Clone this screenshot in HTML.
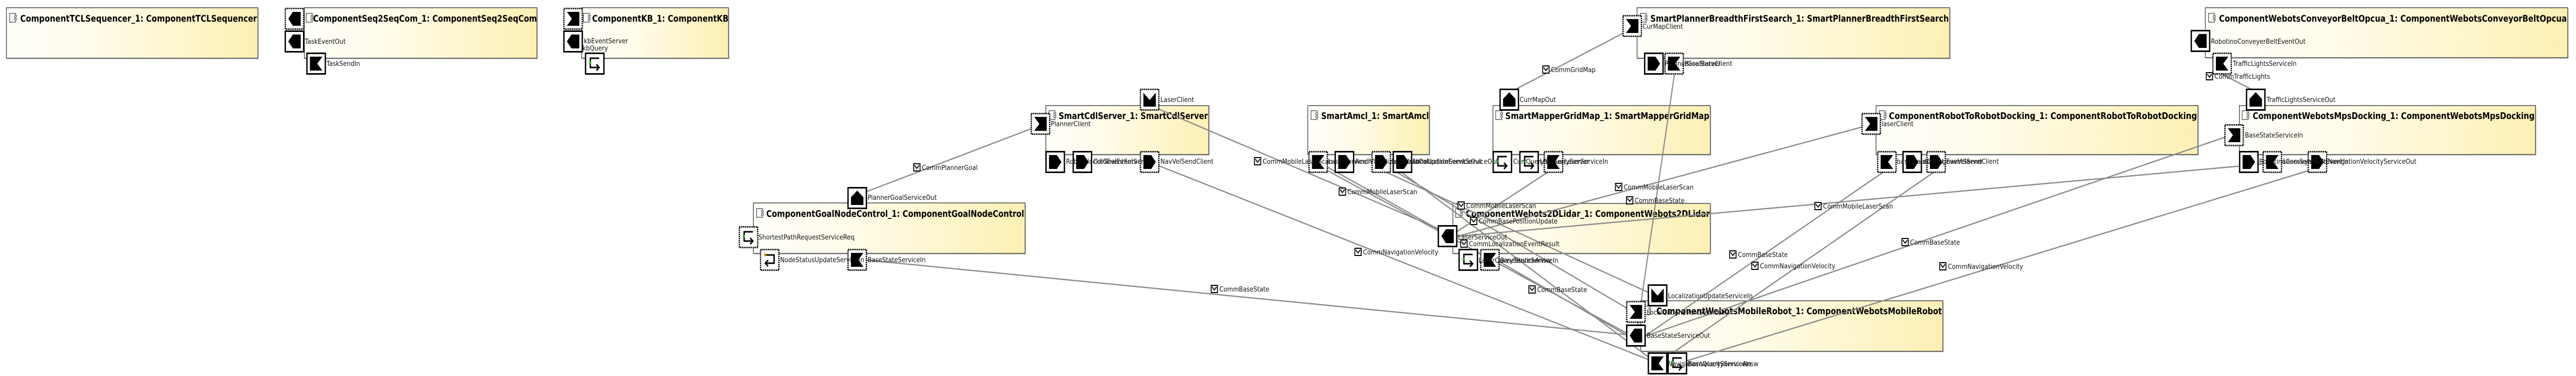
<!DOCTYPE html>
<html><head><meta charset="utf-8"><meta name="viewport" content="width=5594, initial-scale=1"><style>
html,body{margin:0;padding:0;background:#fff;width:100%;height:100%;overflow:hidden;}
svg{display:block;width:100vw;height:100vh;}
.t{font-family:"DejaVu Sans","Liberation Sans",sans-serif;font-weight:bold;font-size:18px;fill:#000;}
.l{font-family:"DejaVu Sans","Liberation Sans",sans-serif;font-size:13px;fill:#111;}
.ln{stroke:#8c8c8c;stroke-width:2.5;fill:none;}
.bx{stroke:#444;stroke-width:1.5;fill:url(#g);}
</style></head><body>
<svg viewBox="0 0 5594 730" preserveAspectRatio="none" xmlns="http://www.w3.org/2000/svg" xmlns:xlink="http://www.w3.org/1999/xlink">
<defs>
<linearGradient id="g" x1="0" x2="1" y1="0" y2="0"><stop offset="0" stop-color="#fffefa"/><stop offset="0.35" stop-color="#fffcea"/><stop offset="1" stop-color="#fcf0b4"/></linearGradient>
<symbol id="bs" viewBox="0 0 43 43"><rect x="1.5" y="1.5" width="40" height="40" fill="#fff" stroke="#000" stroke-width="3"/></symbol>
<symbol id="bd" viewBox="0 0 43 43"><rect x="1.5" y="1.5" width="40" height="40" fill="#fff" stroke="#000" stroke-width="3" stroke-dasharray="2.5 1.5"/></symbol>
<symbol id="iL" viewBox="0 0 43 43"><polygon points="8,21.5 18,8 35,8 35,35 18,35"/></symbol>
<symbol id="iR" viewBox="0 0 43 43"><polygon points="8,8 25,8 35,21.5 25,35 8,35"/></symbol>
<symbol id="iN" viewBox="0 0 43 43"><polygon points="8,8 35,8 24,21.5 35,35 8,35"/></symbol>
<symbol id="iC" viewBox="0 0 43 43"><polygon points="8,8 35,8 35,35 8,35 19,21.5"/></symbol>
<symbol id="iU" viewBox="0 0 43 43"><polygon points="8,35 8,20 21.5,7 35,20 35,35"/></symbol>
<symbol id="iD" viewBox="0 0 43 43"><polygon points="8,8 21.5,22 35,8 35,35 8,35"/></symbol>
<symbol id="iQ" viewBox="0 0 43 43"><path d="M31,11 H12 V29 H31 M25,23 L31,29 L25,35" fill="none" stroke="#000" stroke-width="3"/><rect x="9" y="17" width="5" height="6" fill="#4a4"/></symbol>
<symbol id="iA" viewBox="0 0 43 43"><path d="M11,12 H31 V28 H12 M18,22 L12,28 L18,34" fill="none" stroke="#000" stroke-width="3"/><rect x="9" y="9" width="5" height="5" fill="#c90"/></symbol>
<symbol id="ci" viewBox="0 0 16 16"><rect x="1" y="1" width="14" height="14" fill="#fff" stroke="#000" stroke-width="2"/><polyline points="3,4 8,10 13,4" fill="none" stroke="#000" stroke-width="2"/></symbol>
<symbol id="cmp" viewBox="0 0 18 20"><rect x="1" y="1" width="13" height="17" fill="#fff" stroke="#444" stroke-width="1.3"/><rect x="11" y="5" width="5" height="3" fill="#fff" stroke="#444"/><rect x="11" y="11" width="5" height="3" fill="#fff" stroke="#444"/></symbol>
</defs>

<g>
<rect x="16" y="17" width="546" height="98" fill="#ccc"/><rect class="bx" x="14" y="15" width="546" height="98"/>
<rect x="663" y="17" width="505" height="98" fill="#ccc"/><rect class="bx" x="661" y="15" width="505" height="98"/>
<rect x="1265" y="17" width="319" height="98" fill="#ccc"/><rect class="bx" x="1263" y="15" width="319" height="98"/>
<rect x="1638" y="396" width="590" height="98" fill="#ccc"/><rect class="bx" x="1636" y="394" width="590" height="98"/>
<rect x="2273" y="207" width="354" height="95" fill="#ccc"/><rect class="bx" x="2271" y="205" width="354" height="95"/>
<rect x="2842" y="207" width="264" height="95" fill="#ccc"/><rect class="bx" x="2840" y="205" width="264" height="95"/>
<rect x="3244" y="207" width="472" height="95" fill="#ccc"/><rect class="bx" x="3242" y="205" width="472" height="95"/>
<rect x="3557" y="17" width="679" height="98" fill="#ccc"/><rect class="bx" x="3555" y="15" width="679" height="98"/>
<rect x="3157" y="397" width="559" height="97" fill="#ccc"/><rect class="bx" x="3155" y="395" width="559" height="97"/>
<rect x="3565" y="586" width="656" height="98" fill="#ccc"/><rect class="bx" x="3563" y="584" width="656" height="98"/>
<rect x="4791" y="17" width="787" height="97" fill="#ccc"/><rect class="bx" x="4789" y="15" width="787" height="97"/>
<rect x="4076" y="207" width="699" height="95" fill="#ccc"/><rect class="bx" x="4074" y="205" width="699" height="95"/>
<rect x="4865" y="207" width="643" height="95" fill="#ccc"/><rect class="bx" x="4863" y="205" width="643" height="95"/>
</g>

<g>
<use href="#cmp" x="20" y="25" width="18" height="20"/><text class="t" x="44" y="42" textLength="514" lengthAdjust="spacingAndGlyphs">ComponentTCLSequencer_1: ComponentTCLSequencer</text>
<use href="#cmp" x="664" y="25" width="18" height="20"/><text class="t" x="680" y="42" textLength="486" lengthAdjust="spacingAndGlyphs">ComponentSeq2SeqCom_1: ComponentSeq2SeqCom</text>
<use href="#cmp" x="1266" y="25" width="18" height="20"/><text class="t" x="1286" y="42" textLength="296" lengthAdjust="spacingAndGlyphs">ComponentKB_1: ComponentKB</text>
<use href="#cmp" x="1642" y="404" width="18" height="20"/><text class="t" x="1664" y="421" textLength="560" lengthAdjust="spacingAndGlyphs">ComponentGoalNodeControl_1: ComponentGoalNodeControl</text>
<use href="#cmp" x="2277" y="214" width="18" height="20"/><text class="t" x="2299" y="231" textLength="324" lengthAdjust="spacingAndGlyphs">SmartCdlServer_1: SmartCdlServer</text>
<use href="#cmp" x="2846" y="214" width="18" height="20"/><text class="t" x="2869" y="231" textLength="234" lengthAdjust="spacingAndGlyphs">SmartAmcl_1: SmartAmcl</text>
<use href="#cmp" x="3247" y="214" width="18" height="20"/><text class="t" x="3269" y="231" textLength="443" lengthAdjust="spacingAndGlyphs">SmartMapperGridMap_1: SmartMapperGridMap</text>
<use href="#cmp" x="3561" y="25" width="18" height="20"/><text class="t" x="3584" y="42" textLength="648" lengthAdjust="spacingAndGlyphs">SmartPlannerBreadthFirstSearch_1: SmartPlannerBreadthFirstSearch</text>
<use href="#cmp" x="3160" y="404" width="18" height="20"/><text class="t" x="3183" y="421" textLength="530" lengthAdjust="spacingAndGlyphs">ComponentWebots2DLidar_1: ComponentWebots2DLidar</text>
<use href="#cmp" x="3569" y="593" width="18" height="20"/><text class="t" x="3597" y="610" textLength="620" lengthAdjust="spacingAndGlyphs">ComponentWebotsMobileRobot_1: ComponentWebotsMobileRobot</text>
<use href="#cmp" x="4795" y="25" width="18" height="20"/><text class="t" x="4819" y="42" textLength="755" lengthAdjust="spacingAndGlyphs">ComponentWebotsConveyorBeltOpcua_1: ComponentWebotsConveyorBeltOpcua</text>
<use href="#cmp" x="4080" y="214" width="18" height="20"/><text class="t" x="4102" y="231" textLength="669" lengthAdjust="spacingAndGlyphs">ComponentRobotToRobotDocking_1: ComponentRobotToRobotDocking</text>
<use href="#cmp" x="4868" y="214" width="18" height="20"/><text class="t" x="4892" y="231" textLength="612" lengthAdjust="spacingAndGlyphs">ComponentWebotsMpsDocking_1: ComponentWebotsMpsDocking</text>
</g>

<g class="ln">
<line x1="1882" y1="372" x2="2242" y2="249"/>
<line x1="1882" y1="505" x2="3535" y2="650"/>
<line x1="2517" y1="212" x2="3145" y2="452"/>
<line x1="2517" y1="322" x2="3585" y2="700"/>
<line x1="2862" y1="314" x2="3145" y2="456"/>
<line x1="2880" y1="330" x2="3535" y2="648"/>
<line x1="3000" y1="330" x2="3590" y2="572"/>
<line x1="3025" y1="330" x2="3555" y2="610"/>
<line x1="3040" y1="332" x2="3590" y2="700"/>
<line x1="3365" y1="332" x2="3160" y2="452"/>
<line x1="3290" y1="174" x2="3530" y2="62"/>
<line x1="3636" y1="145" x2="3555" y2="640"/>
<line x1="3164" y1="459" x2="4050" y2="245"/>
<line x1="3164" y1="459" x2="4920" y2="318"/>
<line x1="3250" y1="505" x2="3535" y2="652"/>
<line x1="4090" y1="334" x2="3560" y2="660"/>
<line x1="4200" y1="334" x2="3600" y2="705"/>
<line x1="4836" y1="265" x2="3565" y2="655"/>
<line x1="5018" y1="330" x2="3610" y2="715"/>
<line x1="4825" y1="144" x2="4895" y2="176"/>
</g>

<g>
<use href="#bd" x="618" y="15" width="43" height="43"/><use href="#iL" x="618" y="15" width="43" height="43"/>
<use href="#bs" x="618" y="59" width="43" height="43"/><use href="#iL" x="618" y="59" width="43" height="43"/>
<use href="#bs" x="665" y="102" width="43" height="43"/><use href="#iN" x="665" y="102" width="43" height="43"/>

<use href="#bd" x="1223" y="15" width="43" height="43"/><use href="#iC" x="1223" y="15" width="43" height="43"/>
<use href="#bs" x="1223" y="59" width="43" height="43"/><use href="#iL" x="1223" y="59" width="43" height="43"/>
<use href="#bs" x="1270" y="102" width="43" height="43"/><use href="#iQ" x="1270" y="102" width="43" height="43"/>

<use href="#bs" x="1840" y="363" width="43" height="43"/><use href="#iU" x="1840" y="363" width="43" height="43"/>
<use href="#bd" x="1604" y="439" width="43" height="43"/><use href="#iQ" x="1604" y="439" width="43" height="43"/>
<use href="#bd" x="1650" y="483" width="43" height="43"/><use href="#iA" x="1650" y="483" width="43" height="43"/>
<use href="#bd" x="1840" y="483" width="43" height="43"/><use href="#iN" x="1840" y="483" width="43" height="43"/>

<use href="#bd" x="2238" y="219" width="43" height="43"/><use href="#iC" x="2238" y="219" width="43" height="43"/>
<use href="#bd" x="2475" y="172" width="43" height="43"/><use href="#iD" x="2475" y="172" width="43" height="43"/>
<use href="#bs" x="2270" y="293" width="43" height="43"/><use href="#iR" x="2270" y="293" width="43" height="43"/>
<use href="#bs" x="2329" y="293" width="43" height="43"/><use href="#iR" x="2329" y="293" width="43" height="43"/>
<use href="#bd" x="2475" y="293" width="43" height="43"/><use href="#iR" x="2475" y="293" width="43" height="43"/>

<use href="#bd" x="2841" y="293" width="43" height="43"/><use href="#iN" x="2841" y="293" width="43" height="43"/>
<use href="#bs" x="2898" y="293" width="43" height="43"/><use href="#iR" x="2898" y="293" width="43" height="43"/>
<use href="#bd" x="2978" y="293" width="43" height="43"/><use href="#iR" x="2978" y="293" width="43" height="43"/>
<use href="#bs" x="3024" y="293" width="43" height="43"/><use href="#iR" x="3024" y="293" width="43" height="43"/>

<use href="#bs" x="3256" y="172" width="43" height="43"/><use href="#iU" x="3256" y="172" width="43" height="43"/>
<use href="#bs" x="3241" y="293" width="43" height="43"/><use href="#iQ" x="3241" y="293" width="43" height="43"/>
<use href="#bs" x="3299" y="293" width="43" height="43"/><use href="#iQ" x="3299" y="293" width="43" height="43"/>
<use href="#bd" x="3352" y="293" width="43" height="43"/><use href="#iN" x="3352" y="293" width="43" height="43"/>

<use href="#bd" x="3523" y="29" width="43" height="43"/><use href="#iC" x="3523" y="29" width="43" height="43"/>
<use href="#bs" x="3570" y="102" width="43" height="43"/><use href="#iR" x="3570" y="102" width="43" height="43"/>
<use href="#bd" x="3614" y="102" width="43" height="43"/><use href="#iN" x="3614" y="102" width="43" height="43"/>

<use href="#bs" x="3122" y="437" width="43" height="43"/><use href="#iL" x="3122" y="437" width="43" height="43"/>
<use href="#bs" x="3167" y="483" width="43" height="43"/><use href="#iQ" x="3167" y="483" width="43" height="43"/>
<use href="#bd" x="3214" y="483" width="43" height="43"/><use href="#iN" x="3214" y="483" width="43" height="43"/>

<use href="#bs" x="3578" y="552" width="43" height="43"/><use href="#iD" x="3578" y="552" width="43" height="43"/>
<use href="#bd" x="3531" y="584" width="43" height="43"/><use href="#iC" x="3531" y="584" width="43" height="43"/>
<use href="#bs" x="3531" y="630" width="43" height="43"/><use href="#iL" x="3531" y="630" width="43" height="43"/>
<use href="#bs" x="3578" y="684" width="43" height="43"/><use href="#iN" x="3578" y="684" width="43" height="43"/>
<use href="#bs" x="3621" y="684" width="43" height="43"/><use href="#iQ" x="3621" y="684" width="43" height="43"/>

<use href="#bs" x="4757" y="58" width="43" height="43"/><use href="#iL" x="4757" y="58" width="43" height="43"/>
<use href="#bd" x="4804" y="102" width="43" height="43"/><use href="#iN" x="4804" y="102" width="43" height="43"/>

<use href="#bd" x="4042" y="219" width="43" height="43"/><use href="#iC" x="4042" y="219" width="43" height="43"/>
<use href="#bd" x="4076" y="293" width="43" height="43"/><use href="#iN" x="4076" y="293" width="43" height="43"/>
<use href="#bs" x="4131" y="293" width="43" height="43"/><use href="#iR" x="4131" y="293" width="43" height="43"/>
<use href="#bd" x="4183" y="293" width="43" height="43"/><use href="#iR" x="4183" y="293" width="43" height="43"/>

<use href="#bs" x="4877" y="172" width="43" height="43"/><use href="#iU" x="4877" y="172" width="43" height="43"/>
<use href="#bd" x="4830" y="241" width="43" height="43"/><use href="#iC" x="4830" y="241" width="43" height="43"/>
<use href="#bs" x="4862" y="293" width="43" height="43"/><use href="#iR" x="4862" y="293" width="43" height="43"/>
<use href="#bd" x="4913" y="293" width="43" height="43"/><use href="#iN" x="4913" y="293" width="43" height="43"/>
<use href="#bd" x="5011" y="293" width="43" height="43"/><use href="#iR" x="5011" y="293" width="43" height="43"/>
</g>

<g class="l">
<text x="662" y="85">TaskEventOut</text>
<text x="709" y="128">TaskSendIn</text>
<text x="1268" y="84">kbEventServer</text>
<text x="1265" y="98">kbQuery</text>
<text x="1884" y="388">PlannerGoalServiceOut</text>
<text x="1647" y="465">ShortestPathRequestServiceReq</text>
<text x="1694" y="509">NodeStatusUpdateServiceIn</text>
<text x="1884" y="509">BaseStateServiceIn</text>
<text x="2282" y="245">PlannerClient</text>
<text x="2520" y="198">LaserClient</text>
<text x="2315" y="318">RobotBlockedEventServer</text>
<text x="2374" y="318">CdlGoalEventServer</text>
<text x="2520" y="318">NavVelSendClient</text>
<text x="2884" y="318">LaserServiceIn</text>
<text x="2942" y="318">AmclVisualizationInfoOut</text>
<text x="3022" y="318">LocalizationUpdateServiceOut</text>
<text x="3068" y="318">LocalizationEventServiceOut</text>
<text x="3300" y="198">CurrMapOut</text>
<text x="3286" y="318">CurrQueryServer</text>
<text x="3344" y="318">LtmQueryServer</text>
<text x="3397" y="318">LaserServiceIn</text>
<text x="3567" y="56">CurMapClient</text>
<text x="3615" y="128">PlannerGoalServer</text>
<text x="3658" y="128">BaseStateClient</text>
<text x="3166" y="465">LaserServiceOut</text>
<text x="3211" y="510">LaserQueryServiceAnsw</text>
<text x="3258" y="510">BaseStateServiceIn</text>
<text x="3622" y="579">LocalizationUpdateServiceIn</text>
<text x="3576" y="611">LocalizationEventServiceIn</text>
<text x="3576" y="656">BaseStateServiceOut</text>
<text x="3622" y="711">NavigationVelocityServiceIn</text>
<text x="3665" y="711">BaseQueryServiceAnsw</text>
<text x="4801" y="85">RobotinoConveyerBeltEventOut</text>
<text x="4849" y="128">TrafficLightsServiceIn</text>
<text x="4086" y="245">laserClient</text>
<text x="4119" y="318">baseStateClient</text>
<text x="4175" y="318">dockingEventServer</text>
<text x="4227" y="318">navVelSendClient</text>
<text x="4922" y="198">TrafficLightsServiceOut</text>
<text x="4875" y="267">BaseStateServiceIn</text>
<text x="4906" y="318">RobotinoConveyerBeltEventIn</text>
<text x="4958" y="318">LaserServiceIn</text>
<text x="5055" y="318">NavigationVelocityServiceOut</text>
</g>

<g class="l">
<use href="#ci" x="1983" y="317" width="16" height="16"/><text x="2002" y="330">CommPlannerGoal</text>
<use href="#ci" x="2629" y="553" width="16" height="16"/><text x="2648" y="566">CommBaseState</text>
<use href="#ci" x="2907" y="364" width="16" height="16"/><text x="2926" y="377">CommMobileLaserScan</text>
<use href="#ci" x="2941" y="481" width="16" height="16"/><text x="2960" y="494">CommNavigationVelocity</text>
<use href="#ci" x="2723" y="305" width="16" height="16"/><text x="2742" y="318">CommMobileLaserScan</text>
<use href="#ci" x="3349" y="127" width="16" height="16"/><text x="3368" y="140">CommGridMap</text>
<use href="#ci" x="3165" y="391" width="16" height="16"/><text x="3184" y="404">CommMobileLaserScan</text>
<use href="#ci" x="3192" y="421" width="16" height="16"/><text x="3211" y="434">CommBasePositionUpdate</text>
<use href="#ci" x="3171" y="465" width="16" height="16"/><text x="3190" y="478">CommLocalizationEventResult</text>
<use href="#ci" x="3319" y="554" width="16" height="16"/><text x="3338" y="567">CommBaseState</text>
<use href="#ci" x="3507" y="355" width="16" height="16"/><text x="3526" y="368">CommMobileLaserScan</text>
<use href="#ci" x="3531" y="381" width="16" height="16"/><text x="3550" y="394">CommBaseState</text>
<use href="#ci" x="3940" y="392" width="16" height="16"/><text x="3959" y="405">CommMobileLaserScan</text>
<use href="#ci" x="3755" y="486" width="16" height="16"/><text x="3774" y="499">CommBaseState</text>
<use href="#ci" x="3803" y="508" width="16" height="16"/><text x="3822" y="521">CommNavigationVelocity</text>
<use href="#ci" x="4129" y="462" width="16" height="16"/><text x="4148" y="475">CommBaseState</text>
<use href="#ci" x="4211" y="509" width="16" height="16"/><text x="4230" y="522">CommNavigationVelocity</text>
<use href="#ci" x="4790" y="140" width="16" height="16"/><text x="4809" y="153">CommTrafficLights</text>
</g>
</svg>
</body></html>
